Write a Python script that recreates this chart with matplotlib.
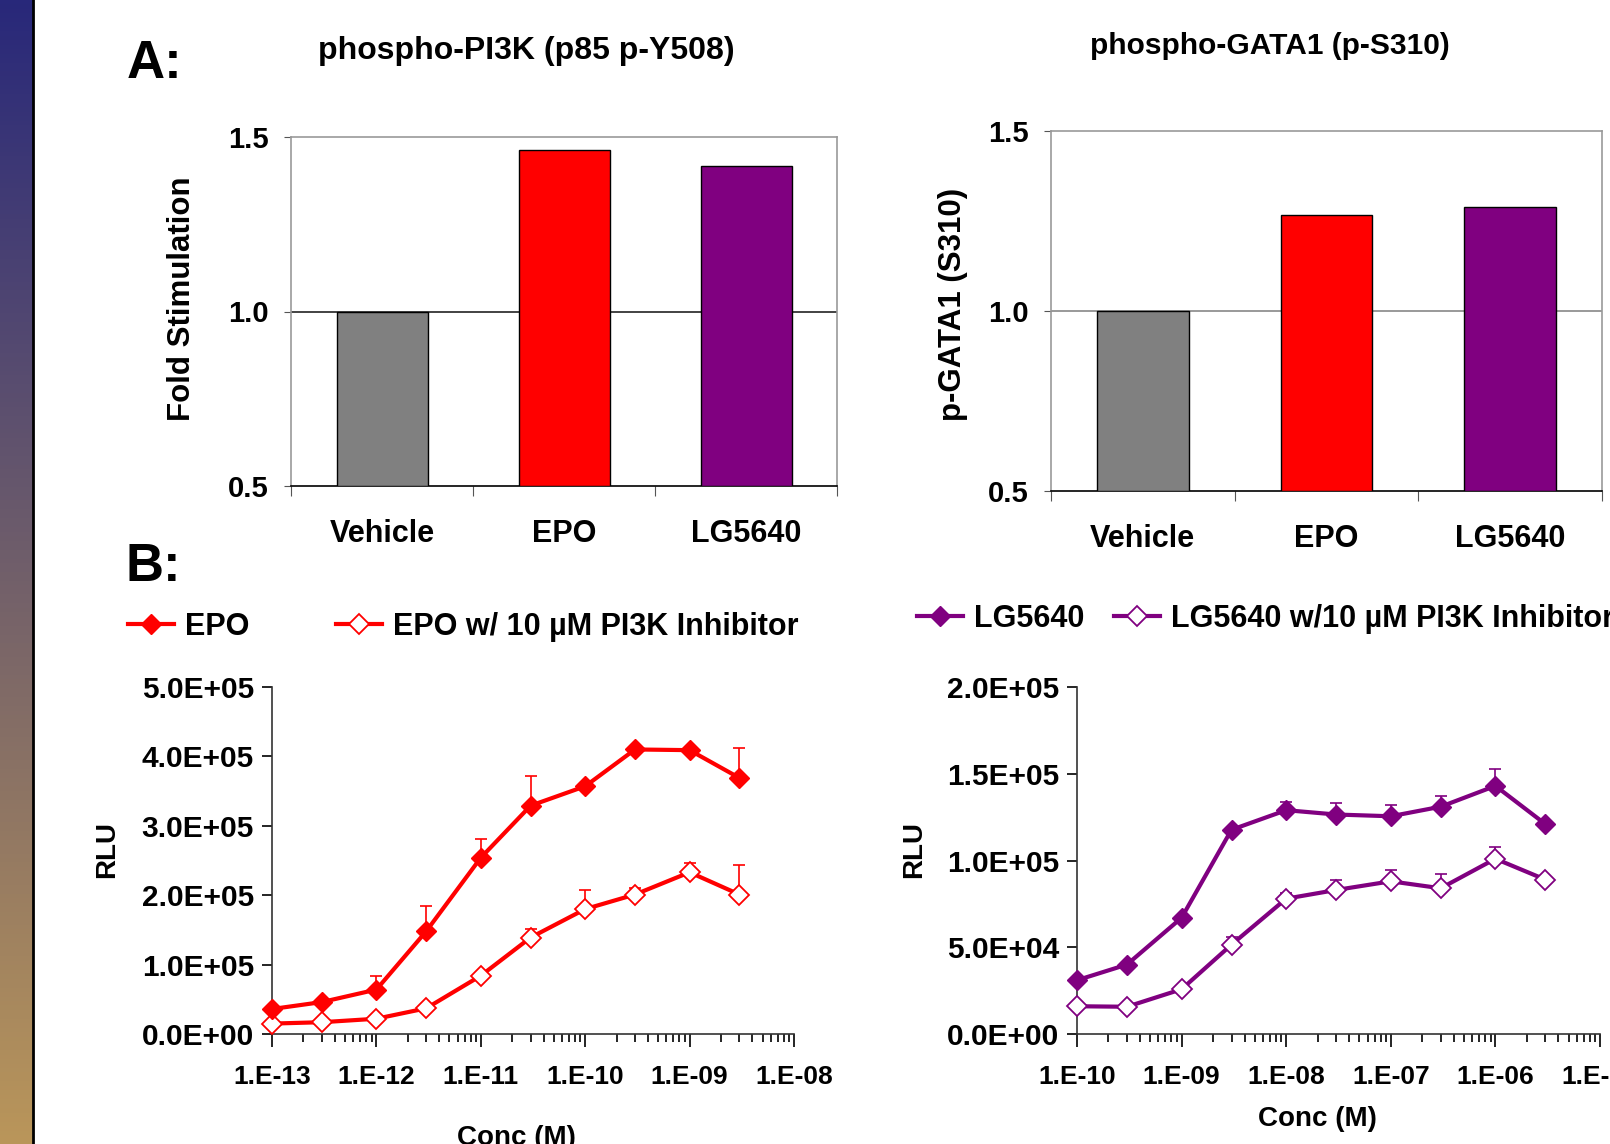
import numpy as np
import matplotlib
matplotlib.use('Agg')
import matplotlib.pyplot as plt
from matplotlib.ticker import FuncFormatter, LogLocator, NullFormatter, FixedLocator

plt.rcParams['font.family'] = ['Liberation Sans', 'DejaVu Sans']
plt.rcParams['font.weight'] = 'bold'

# --- panel A: fold stimulation bars ---
groups = ['Vehicle', 'EPO', 'LG5640']
bar_colors = ['#808080', '#ff0000', '#800080']
pi3k_fold = [1.0, 1.462, 1.418]
gata1_fold = [1.0, 1.266, 1.289]

# --- panel B: dose response (RLU) ---
epo_conc = [1e-13, 3e-13, 1e-12, 3e-12, 1e-11, 3e-11, 1e-10, 3e-10, 1e-9, 3e-9]
epo_rlu = [3.6e4, 4.6e4, 6.4e4, 1.48e5, 2.54e5, 3.29e5, 3.57e5, 4.10e5, 4.09e5, 3.69e5]
epo_err = [0, 0, 2.0e4, 3.6e4, 2.7e4, 4.3e4, 4e3, 0, 0, 4.3e4]
epo_inh_rlu = [1.5e4, 1.7e4, 2.2e4, 3.7e4, 8.4e4, 1.39e5, 1.80e5, 2.01e5, 2.33e5, 2.01e5]
epo_inh_err = [0, 0, 0, 0, 0, 1.2e4, 2.7e4, 9e3, 1.3e4, 4.3e4]

lg_conc = [1e-10, 3e-10, 1e-9, 3e-9, 1e-8, 3e-8, 1e-7, 3e-7, 1e-6, 3e-6]
lg_rlu = [3.1e4, 4.0e4, 6.7e4, 1.177e5, 1.29e5, 1.265e5, 1.255e5, 1.31e5, 1.43e5, 1.21e5]
lg_err = [0, 0, 0, 0, 5e3, 6.5e3, 6.5e3, 6e3, 1.0e4, 0]
lg_inh_rlu = [1.6e4, 1.57e4, 2.58e4, 5.15e4, 7.8e4, 8.3e4, 8.8e4, 8.4e4, 1.01e5, 8.9e4]
lg_inh_err = [0, 0, 0, 4.5e3, 3e3, 6e3, 6.5e3, 8e3, 6.5e3, 0]

W, H = 1610, 1144
fig = plt.figure(figsize=(W / 100, H / 100), dpi=100)


def px_axes(left, top, right, bottom):
    return fig.add_axes([left / W, 1 - bottom / H, (right - left) / W, (bottom - top) / H])


# side gradient strip
strip = fig.add_axes([0, 0, 32 / W, 1])
top_c = np.array([40, 40, 122]) / 255
bot_c = np.array([186, 150, 90]) / 255
t = np.linspace(0, 1, 256)[:, None]
grad = (top_c * (1 - t) + bot_c * t)[:, None, :]
strip.imshow(grad, aspect='auto', extent=[0, 1, 0, 1])
strip.axis('off')
fig.add_artist(plt.Line2D([33 / W, 33 / W], [0, 1], color='black', lw=2))


def bar_panel(ax, vals, grid_color):
    x = np.arange(len(groups))
    ax.bar(x, [v - 0.5 for v in vals], bottom=0.5, width=0.5,
           color=bar_colors, edgecolor='black', linewidth=1, zorder=3)
    ax.set_xlim(-0.5, 2.5)
    ax.set_ylim(0.5, 1.5)
    ax.axhline(1.0, color=grid_color, lw=1.2, zorder=1)
    ax.set_yticks([0.5, 1.0, 1.5])
    ax.set_yticklabels(['0.5', '1.0', '1.5'], fontsize=21)
    ax.xaxis.set_major_locator(FixedLocator([-0.5, 0.5, 1.5, 2.5]))
    ax.xaxis.set_major_formatter(NullFormatter())
    ax.xaxis.set_minor_locator(FixedLocator([0, 1, 2]))
    ax.set_xticklabels(groups, minor=True, fontsize=22)
    ax.tick_params(axis='x', which='major', direction='out', length=7, color='#555555')
    ax.tick_params(axis='x', which='minor', length=0, pad=24)
    ax.tick_params(axis='y', direction='out', length=5, pad=11, color='#555555')
    for s in ['top', 'right', 'left']:
        ax.spines[s].set_color('#999999')
        ax.spines[s].set_linewidth(1.2)
    ax.spines['bottom'].set_color('black')
    ax.spines['bottom'].set_linewidth(1.2)


ax1 = px_axes(291, 137, 837, 486)
bar_panel(ax1, pi3k_fold, '#222222')
ax2 = px_axes(1051, 131, 1602, 491)
bar_panel(ax2, gata1_fold, '#888888')


def exp_fmt(v, pos):
    e = int(round(np.log10(v)))
    return '1.E-%02d' % (-e)


def sci_fmt(v, pos):
    return '%.1E' % v


def line_panel(ax, conc, mean, err, inh_mean, inh_err, color, xlim, ymax, ystep, labels):
    ax.errorbar(conc, mean, yerr=[np.zeros(len(err)), err], fmt='none',
                ecolor=color, elinewidth=1.2, capsize=4, capthick=1.2, zorder=2, clip_on=False)
    ax.errorbar(conc, inh_mean, yerr=[np.zeros(len(inh_err)), inh_err], fmt='none',
                ecolor=color, elinewidth=1.2, capsize=4, capthick=1.2, zorder=2, clip_on=False)
    h1, = ax.plot(conc, mean, color=color, lw=3, marker='D', ms=10,
                  markerfacecolor=color, markeredgecolor=color, zorder=4, clip_on=False,
                  label=labels[0])
    h2, = ax.plot(conc, inh_mean, color=color, lw=3, marker='D', ms=10,
                  markerfacecolor='white', markeredgecolor=color, markeredgewidth=1.3,
                  zorder=3, clip_on=False, label=labels[1])
    ax.set_xscale('log')
    ax.set_xlim(*xlim)
    ax.set_ylim(0, ymax)
    ax.set_yticks(np.arange(0, ymax + ystep / 2, ystep))
    ax.yaxis.set_major_formatter(FuncFormatter(sci_fmt))
    ax.xaxis.set_major_locator(LogLocator(base=10, numticks=20))
    ax.xaxis.set_minor_locator(LogLocator(base=10, subs=np.arange(2, 10), numticks=20))
    ax.xaxis.set_major_formatter(FuncFormatter(exp_fmt))
    ax.xaxis.set_minor_formatter(NullFormatter())
    ax.tick_params(axis='both', which='major', direction='out', width=1.2)
    ax.tick_params(axis='x', which='major', length=9, pad=13, labelsize=19)
    ax.tick_params(axis='x', which='minor', length=6, width=1.2)
    ax.tick_params(axis='y', length=7, pad=6, labelsize=21.5)
    for s in ['top', 'right']:
        ax.spines[s].set_visible(False)
    for s in ['left', 'bottom']:
        ax.spines[s].set_linewidth(1.2)
        ax.spines[s].set_color('#333333')
    return h1, h2


ax3 = px_axes(272, 687, 794, 1034)
line_panel(ax3, epo_conc, epo_rlu, epo_err, epo_inh_rlu, epo_inh_err, '#ff0000',
           (1e-13, 1e-8), 5e5, 1e5, ['EPO', 'EPO w/ 10 \u00b5M PI3K Inhibitor'])
ax3.legend(ncol=2, loc='center left', bbox_to_anchor=(128 / W, 1 - 627 / H),
           bbox_transform=fig.transFigure, frameon=False, fontsize=22,
           handlelength=1.5, handletextpad=0.35, columnspacing=2.85,
           borderpad=0, borderaxespad=0)

ax4 = px_axes(1077, 687, 1600, 1034)
line_panel(ax4, lg_conc, lg_rlu, lg_err, lg_inh_rlu, lg_inh_err, '#800080',
           (1e-10, 1e-5), 2e5, 5e4, ['LG5640', 'LG5640 w/10 \u00b5M PI3K Inhibitor'])
ax4.legend(ncol=2, loc='center left', bbox_to_anchor=(917 / W, 1 - 619 / H),
           bbox_transform=fig.transFigure, frameon=False, fontsize=22,
           handlelength=1.5, handletextpad=0.35, columnspacing=1.0,
           borderpad=0, borderaxespad=0)

# titles and labels
fig.text(155 / W, 1 - 64 / H, 'A:', fontsize=38, ha='center', va='center')
fig.text(153 / W, 1 - 567 / H, 'B:', fontsize=38, ha='center', va='center')
fig.text(526 / W, 1 - 51 / H, 'phospho-PI3K (p85 p-Y508)', fontsize=23, ha='center', va='center')
fig.text(1270 / W, 1 - 46 / H, 'phospho-GATA1 (p-S310)', fontsize=21.5, ha='center', va='center')
fig.text(182 / W, 1 - 299 / H, 'Fold Stimulation', fontsize=22.5, rotation=90, ha='center', va='center')
fig.text(953 / W, 1 - 304 / H, 'p-GATA1 (S310)', fontsize=22.5, rotation=90, ha='center', va='center')
fig.text(107 / W, 1 - 850 / H, 'RLU', fontsize=20, rotation=90, ha='center', va='center')
fig.text(914 / W, 1 - 849 / H, 'RLU', fontsize=20, rotation=90, ha='center', va='center')
fig.text(516 / W, 1 - 1138 / H, 'Conc (M)', fontsize=20, ha='center', va='center')
fig.text(1317 / W, 1 - 1119 / H, 'Conc (M)', fontsize=20, ha='center', va='center')

fig.savefig('out.png', dpi=100)
